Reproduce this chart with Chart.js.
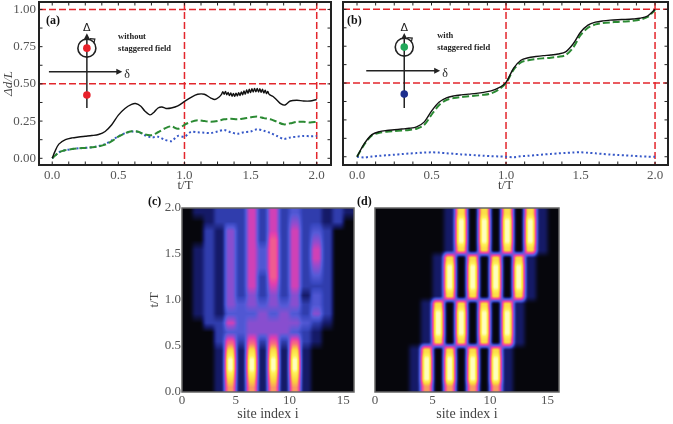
<!DOCTYPE html>
<html>
<head>
<meta charset="utf-8">
<script src="https://cdn.jsdelivr.net/npm/chart.js@4.4.1/dist/chart.umd.min.js"></script>
<style>
  html, body { margin: 0; padding: 0; background: #fff; }
  body { width: 673px; height: 424px; position: relative; overflow: hidden; }
  canvas { position: absolute; }
</style>
</head>
<body>
<canvas id="chartA" width="336" height="194" style="left:0;top:0"></canvas>
<canvas id="chartB" width="337" height="194" style="left:336px;top:0"></canvas>
<canvas id="chartC" width="220" height="238" style="left:140px;top:186px"></canvas>
<canvas id="chartD" width="223" height="238" style="left:350px;top:186px"></canvas>
<script>
const SERIF = "'Liberation Serif', 'Times New Roman', serif";

// ---- panel (a): without staggered field ----
const tA = [0,0.05,0.1,0.15,0.2,0.25,0.3,0.35,0.4,0.45,0.5,0.55,0.6,0.65,0.7,0.75,0.8,0.85,0.9,0.95,
            1,1.05,1.1,1.15,1.2,1.25,1.3,1.35,1.4,1.45,1.5,1.55,1.6,1.65,1.7,1.75,1.8,1.85,1.9,1.95,2];
const tBlackA = [0,0.02,0.05,0.1,0.15,0.2,0.25,0.3,0.35,0.4,0.45,0.5,0.55,0.6,0.63,0.67,0.7,0.74,0.77,0.8,
                 0.83,0.86,0.9,0.95,1,1.05,1.1,1.15,1.2,1.23,1.26,
                 1.28,1.29,1.3,1.31,1.32,1.33,1.34,1.35,1.36,1.37,1.38,1.39,1.4,1.41,1.42,1.43,1.44,1.45,
                 1.46,1.47,1.48,1.49,1.5,1.51,1.52,1.53,1.54,1.55,1.56,1.57,1.58,1.59,1.6,1.61,1.62,1.63,1.64,
                 1.67,1.7,1.73,1.76,1.8,1.85,1.9,1.95,2];
const blackA = [0,0.045,0.095,0.125,0.137,0.143,0.148,0.153,0.16,0.18,0.225,0.29,0.335,0.362,0.368,0.35,0.318,0.292,0.31,0.338,
                0.345,0.335,0.338,0.352,0.382,0.41,0.43,0.43,0.405,0.395,0.41,
                0.43,0.447,0.43,0.449,0.427,0.443,0.421,0.439,0.417,0.436,0.416,0.438,0.419,0.441,0.422,0.446,0.427,0.453,
                0.431,0.459,0.437,0.464,0.441,0.468,0.445,0.47,0.446,0.47,0.445,0.468,0.443,0.464,0.439,0.458,0.435,0.449,0.43,
                0.415,0.39,0.365,0.358,0.385,0.39,0.385,0.385,0.395];
const greenA = [0,0.04,0.055,0.062,0.067,0.07,0.074,0.08,0.092,0.115,0.145,0.168,0.182,0.178,0.16,0.155,0.175,0.2,0.215,0.198,
                0.225,0.245,0.255,0.25,0.245,0.25,0.262,0.265,0.262,0.268,0.275,0.28,0.27,0.262,0.245,0.228,0.235,0.245,0.245,0.24,0.245];
const blueA  = [0,0.04,0.055,0.062,0.067,0.07,0.074,0.082,0.095,0.12,0.148,0.168,0.18,0.178,0.155,0.14,0.145,0.125,0.115,0.15,
                0.145,0.178,0.175,0.172,0.17,0.18,0.19,0.175,0.165,0.175,0.18,0.195,0.185,0.17,0.15,0.13,0.14,0.145,0.15,0.148,0.15];

// ---- panel (b): with staggered field ----
const tB = tA;
const blackB = [0,0.09,0.15,0.17,0.178,0.183,0.188,0.193,0.203,0.235,0.31,0.37,0.4,0.413,0.42,0.425,0.43,0.437,0.447,0.467,
                0.505,0.6,0.655,0.672,0.68,0.686,0.69,0.697,0.712,0.765,0.845,0.893,0.913,0.922,0.927,0.93,0.932,0.935,0.94,0.955,1.0];
const greenB = [0,0.085,0.145,0.163,0.17,0.174,0.178,0.182,0.19,0.215,0.285,0.35,0.385,0.398,0.405,0.41,0.415,0.42,0.43,0.455,
                0.5,0.59,0.64,0.655,0.663,0.668,0.672,0.678,0.69,0.74,0.825,0.875,0.898,0.907,0.912,0.915,0.918,0.922,0.93,0.948,0.995];
const blueB  = [0,-0.005,0.002,0.006,0.01,0.014,0.018,0.022,0.025,0.028,0.03,0.028,0.024,0.02,0.016,0.013,0.01,0.007,0.004,0.002,
                0,-0.003,0.003,0.007,0.011,0.015,0.019,0.023,0.026,0.029,0.03,0.027,0.023,0.019,0.015,0.012,0.009,0.006,0.003,0.001,0];

// ticks and reference lines for (a),(b)
const tickT = [0, 0.5, 1, 1.5, 2];
const tickD = [0, 0.25, 0.5, 0.75, 1];
const minorT = [0,0.125,0.25,0.375,0.5,0.625,0.75,0.875,1,1.125,1.25,1.375,1.5,1.625,1.75,1.875,2];
const minorD = [0,0.125,0.25,0.375,0.5,0.625,0.75,0.875,1];
const refT = [1, 2];
const refD = [0.5, 1];

// ---- panels (c),(d): site occupation, rows from t/T = 1.95 (top) down to 0.05, digit = level 0..9 ----
const heatC = [
  "0112225252322121",
  "0012225252422120",
  "0021425252523200",
  "0021425262524200",
  "0121425362525200",
  "0121425362525200",
  "0121425362524200",
  "0121425262523200",
  "0121425252522200",
  "0121424242413200",
  "0121434343423200",
  "0121333434324200",
  "0022534444432100",
  "0002334444321000",
  "0002626262621000",
  "0001818181810000",
  "0001919191910000",
  "0001919191910000",
  "0001818181810000",
  "0001717171710000"
];
const heatD = [
  "0000001808080810",
  "0000001909090910",
  "0000001909090910",
  "0000001909090910",
  "0000001808080810",
  "0000018080808100",
  "0000019090909100",
  "0000019090909100",
  "0000019090909100",
  "0000018080808100",
  "0000180808081000",
  "0000190909091000",
  "0000190909091000",
  "0000190909091000",
  "0000180808081000",
  "0001808080810000",
  "0001909090910000",
  "0001909090910000",
  "0001909090910000",
  "0001707070710000"
];
const tickSite = [0, 5, 10, 15];
const tickTime = [0, 0.5, 1, 1.5, 2];

const heatStops = [[0,[6,6,12]],[0.12,[22,28,110]],[0.25,[55,70,190]],[0.35,[85,90,215]],[0.47,[150,75,205]],
                   [0.58,[225,62,175]],[0.72,[248,110,125]],[0.85,[250,210,60]],[0.95,[255,242,90]],[1,[255,255,190]]];

function heatColor(v) {
  for (let i = 1; i < heatStops.length; i++) {
    const [p1, c1] = heatStops[i];
    if (v <= p1) {
      const [p0, c0] = heatStops[i - 1];
      const f = (v - p0) / (p1 - p0);
      return [0, 1, 2].map(k => c0[k] + (c1[k] - c0[k]) * f);
    }
  }
  return heatStops[heatStops.length - 1][1];
}
const ease = f => f * f * (3 - 2 * f);
const pts = (xs, ys) => xs.map((x, i) => ({x, y: ys[i]}));

// heat map drawn from the grid through the chart's scales
const heatPlugin = {
  id: 'heat',
  beforeDatasetsDraw(chart, args, o) {
    if (!o || !o.rows) return;
    const {ctx, chartArea: a, scales: {x, y}} = chart;
    const w = Math.round(a.width), h = Math.round(a.height);
    const off = document.createElement('canvas');
    off.width = w; off.height = h;
    const oc = off.getContext('2d');
    const img = oc.createImageData(w, h);
    const nr = o.rows.length, nc = o.rows[0].length;
    const level = (r, c) => Number(o.rows[nr - 1 - r][c]) / 9;
    const easeT = o.smoothT ? ease : (f => f);
    for (let py = 0; py < h; py++) {
      const t = y.getValueForPixel(a.top + (py + 0.5) * a.height / h);
      const fr = Math.min(Math.max(t / o.dt - 0.5, 0), nr - 1);
      const r0 = Math.min(Math.floor(fr), nr - 2), wr = easeT(fr - r0);
      for (let px = 0; px < w; px++) {
        const s = x.getValueForPixel(a.left + (px + 0.5) * a.width / w);
        const fc = Math.min(Math.max(s / o.dx - 0.5, 0), nc - 1);
        const c0 = Math.min(Math.floor(fc), nc - 2), wc = ease(ease(fc - c0));
        const v = (level(r0, c0) * (1 - wc) + level(r0, c0 + 1) * wc) * (1 - wr) +
                  (level(r0 + 1, c0) * (1 - wc) + level(r0 + 1, c0 + 1) * wc) * wr;
        const col = heatColor(v);
        const i = (py * w + px) * 4;
        img.data[i] = col[0]; img.data[i + 1] = col[1]; img.data[i + 2] = col[2]; img.data[i + 3] = 255;
      }
    }
    oc.putImageData(img, 0, 0);
    ctx.drawImage(off, a.left, a.top, a.width, a.height);
  }
};

// red dashed guide lines
const refPlugin = {
  id: 'refs',
  beforeDatasetsDraw(chart, args, o) {
    if (!o || !o.xs) return;
    const {ctx, chartArea: a, scales: {x, y}} = chart;
    ctx.save();
    ctx.beginPath();
    ctx.rect(a.left, a.top, a.width, a.height);
    ctx.clip();
    ctx.strokeStyle = '#e3262c';
    ctx.lineWidth = 1.5;
    ctx.setLineDash([7, 3]);
    o.xs.forEach(v => { const p = x.getPixelForValue(v); ctx.beginPath(); ctx.moveTo(p, a.top); ctx.lineTo(p, a.bottom); ctx.stroke(); });
    o.ys.forEach(v => { const p = y.getPixelForValue(v); ctx.beginPath(); ctx.moveTo(a.left, p); ctx.lineTo(a.right, p); ctx.stroke(); });
    ctx.restore();
  }
};

function arrowHead(ctx, x, y, dir) {
  ctx.beginPath();
  if (dir === 'up') { ctx.moveTo(x, y); ctx.lineTo(x - 3, y + 6); ctx.lineTo(x + 3, y + 6); }
  else { ctx.moveTo(x, y); ctx.lineTo(x - 6, y - 3); ctx.lineTo(x - 6, y + 3); }
  ctx.closePath();
  ctx.fill();
}

// schematic inset (phase diagram with pumping loop)
const insetPlugin = {
  id: 'inset',
  afterDatasetsDraw(chart, args, o) {
    if (!o || !o.text) return;
    const {ctx, scales: {x, y}} = chart;
    const X = v => x.getPixelForValue(v), Y = v => y.getPixelForValue(v);
    const ax = X(o.axisX), top = Y(o.axisTop), hy = Y(o.hY), cy = Y(o.circleY), hx = X(o.hTo);
    ctx.save();
    ctx.strokeStyle = '#222'; ctx.fillStyle = '#222'; ctx.lineWidth = 1.5;
    ctx.beginPath(); ctx.moveTo(ax, Y(o.axisBottom)); ctx.lineTo(ax, top + 4); ctx.stroke();
    arrowHead(ctx, ax, top, 'up');
    ctx.beginPath(); ctx.moveTo(X(o.hFrom), hy); ctx.lineTo(hx - 4, hy); ctx.stroke();
    arrowHead(ctx, hx, hy, 'right');
    ctx.lineWidth = 1.6;
    ctx.beginPath(); ctx.arc(ax, cy, 9, 0, Math.PI * 2); ctx.stroke();
    ctx.lineWidth = 1.2;
    ctx.beginPath(); ctx.moveTo(ax + 3, cy - 9.5); ctx.lineTo(ax + 8, cy - 9); ctx.lineTo(ax + 7, cy - 5); ctx.stroke();
    o.dots.forEach(([v, c]) => { ctx.fillStyle = c; ctx.beginPath(); ctx.arc(ax, Y(v), 3.8, 0, Math.PI * 2); ctx.fill(); });
    ctx.fillStyle = '#222';
    ctx.textBaseline = 'middle'; ctx.textAlign = 'center';
    ctx.font = "11px 'DejaVu Sans'";
    ctx.fillText('Δ', ax, top - 5);
    ctx.textAlign = 'left';
    ctx.font = "12px " + SERIF;
    ctx.fillText('δ', hx + 2, hy + 3);
    ctx.font = "bold 8.5px " + SERIF;
    o.text.forEach((s, i) => ctx.fillText(s, X(o.textX), Y(o.textY[i])));
    ctx.restore();
  }
};

// box frame, inward ticks and panel letter
const framePlugin = {
  id: 'frame',
  afterDraw(chart, args, o) {
    const {ctx, chartArea: a, scales: {x, y}} = chart;
    ctx.save();
    ctx.strokeStyle = o.color || '#222';
    ctx.lineWidth = 1;
    const L = 3.5;
    (o.ticksX || []).forEach(v => {
      const p = x.getPixelForValue(v);
      ctx.beginPath(); ctx.moveTo(p, a.bottom); ctx.lineTo(p, a.bottom - L); ctx.moveTo(p, a.top); ctx.lineTo(p, a.top + L); ctx.stroke();
    });
    (o.ticksY || []).forEach(v => {
      const p = y.getPixelForValue(v);
      ctx.beginPath(); ctx.moveTo(a.left, p); ctx.lineTo(a.left + L, p); ctx.moveTo(a.right, p); ctx.lineTo(a.right - L, p); ctx.stroke();
    });
    ctx.lineWidth = o.width || 2;
    ctx.strokeRect(a.left, a.top, a.width, a.height);
    if (o.label) {
      ctx.fillStyle = '#111';
      ctx.font = "bold 12px " + SERIF;
      ctx.textBaseline = 'middle';
      ctx.textAlign = 'left';
      ctx.fillText(o.label, a.left + o.labelDx, a.top + o.labelDy);
    }
    ctx.restore();
  }
};

const tickFont = {family: SERIF, size: 13};
const titleFont = {family: SERIF, size: 13};
const noGrid = {display: false, drawTicks: false};
const fitY = w => s => { s.width = w; s.paddingTop = 0; s.paddingBottom = 0; };
const fitX = h => s => { s.height = h; s.paddingLeft = 0; s.paddingRight = 0; };

function lineChart(id, series, opts) {
  return new Chart(document.getElementById(id), {
    type: 'scatter',
    data: {
      datasets: [
        {data: series[0], borderColor: '#111', borderWidth: 1.4, pointRadius: 0, showLine: true, tension: 0.3},
        {data: series[1], borderColor: '#2b8a33', borderWidth: 2, borderDash: [7, 3], pointRadius: 0, showLine: true, tension: 0.3},
        {data: series[2], borderColor: '#3658c8', borderWidth: 2, borderDash: [2, 2.5], pointRadius: 0, showLine: true, tension: 0.3}
      ]
    },
    options: {
      responsive: false,
      animation: false,
      events: [],
      layout: {padding: opts.padding},
      plugins: {
        legend: {display: false},
        tooltip: {enabled: false},
        refs: {xs: refT, ys: refD},
        inset: opts.inset,
        frame: {ticksX: minorT, ticksY: minorD, width: 2, color: '#222', label: opts.label, labelDx: opts.labelDx, labelDy: 19}
      },
      scales: {
        x: {
          type: 'linear', min: opts.xMin, max: opts.xMax,
          afterBuildTicks: s => { s.ticks = tickT.map(value => ({value})); },
          afterFit: fitX(29),
          grid: noGrid, border: {display: false},
          ticks: {font: tickFont, color: '#555', padding: 3, maxRotation: 0, autoSkip: false, callback: v => v.toFixed(1)},
          title: {display: true, text: 't/T', font: titleFont, color: '#444', padding: {top: 0, bottom: 1}}
        },
        y: {
          type: 'linear', min: opts.yMin, max: opts.yMax,
          afterBuildTicks: s => { s.ticks = tickD.map(value => ({value})); },
          afterFit: fitY(opts.yWidth),
          grid: noGrid, border: {display: false},
          ticks: {display: opts.yLabels, font: tickFont, color: '#555', padding: 3, callback: v => v.toFixed(2)},
          title: {display: opts.yLabels, text: 'Δd/L', font: {family: SERIF, size: 13, style: 'italic'}, color: '#444', padding: {top: 1, bottom: 0}}
        }
      }
    },
    plugins: [refPlugin, insetPlugin, framePlugin]
  });
}

lineChart('chartA', [pts(tBlackA, blackA), pts(tA, greenA), pts(tA, blueA)], {
  padding: {left: 0, top: 2, right: 5, bottom: 0},
  xMin: -0.1, xMax: 2.108, yMin: -0.045, yMax: 1.05, yWidth: 39, yLabels: true,
  label: '(a)', labelDx: 7,
  inset: {axisX: 0.262, axisTop: 0.84, axisBottom: 0.338, circleY: 0.74,
          dots: [[0.74, '#e8202a'], [0.425, '#e8202a']],
          hFrom: -0.025, hTo: 0.53, hY: 0.581,
          text: ['without', 'staggered field'], textX: 0.498, textY: [0.814, 0.734]}
});

lineChart('chartB', [pts(tB, blackB), pts(tB, greenB), pts(tB, blueB)], {
  padding: {left: 0, top: 2, right: 5, bottom: 0},
  xMin: -0.094, xMax: 2.087, yMin: -0.056, yMax: 1.05, yWidth: 7, yLabels: false,
  label: '(b)', labelDx: 4,
  inset: {axisX: 0.317, axisTop: 0.84, axisBottom: 0.33, circleY: 0.744,
          dots: [[0.744, '#22a85a'], [0.425, '#1e2f8e']],
          hFrom: 0.062, hTo: 0.558, hY: 0.583,
          text: ['with', 'staggered field'], textX: 0.538, textY: [0.819, 0.74]}
});

function heatChart(id, rows, opts) {
  return new Chart(document.getElementById(id), {
    type: 'scatter',
    data: {datasets: [{data: [], pointRadius: 0}]},
    options: {
      responsive: false,
      animation: false,
      events: [],
      layout: {padding: opts.padding},
      plugins: {
        legend: {display: false},
        tooltip: {enabled: false},
        heat: {rows: rows, dt: 0.1, dx: 1, smoothT: opts.smoothT},
        frame: {width: 1.5, color: '#666', label: opts.label, labelDx: opts.labelDx, labelDy: -6}
      },
      scales: {
        x: {
          type: 'linear', min: 0, max: 16,
          afterBuildTicks: s => { s.ticks = tickSite.map(value => ({value})); },
          afterFit: fitX(32),
          grid: noGrid, border: {display: false},
          ticks: {font: tickFont, color: '#555', padding: 1, maxRotation: 0, autoSkip: false, callback: v => String(v)},
          title: {display: true, text: 'site index i', font: {family: SERIF, size: 14}, color: '#444', padding: {top: 0, bottom: 1}}
        },
        y: {
          type: 'linear', min: 0, max: 2,
          afterBuildTicks: s => { s.ticks = tickTime.map(value => ({value})); },
          afterFit: fitY(opts.yWidth),
          grid: noGrid, border: {display: false},
          ticks: {display: opts.yLabels, font: tickFont, color: '#555', padding: 1, callback: v => v.toFixed(1)},
          title: {display: opts.yLabels, text: 't/T', font: titleFont, color: '#444', padding: {top: 7, bottom: 0}}
        }
      }
    },
    plugins: [heatPlugin, framePlugin]
  });
}

heatChart('chartC', heatC, {padding: {left: 0, top: 22, right: 6, bottom: 0}, yWidth: 42, yLabels: true, label: '(c)', labelDx: -34, smoothT: false});
heatChart('chartD', heatD, {padding: {left: 0, top: 22, right: 14, bottom: 0}, yWidth: 25, yLabels: false, label: '(d)', labelDx: -18, smoothT: true});
</script>
</body>
</html>
